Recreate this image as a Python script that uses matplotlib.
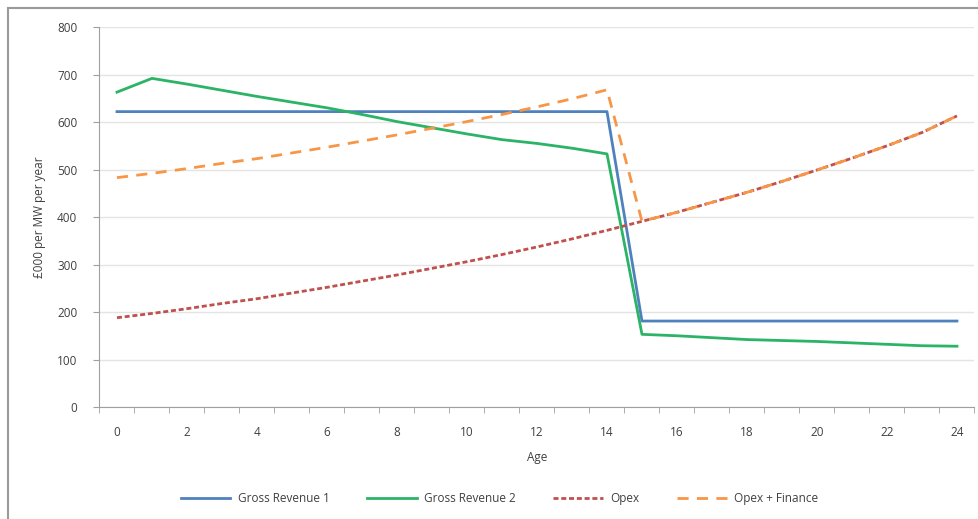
import numpy as np
import matplotlib.pyplot as plt
from matplotlib.patches import Rectangle
from matplotlib.ticker import FixedLocator, MultipleLocator

age = list(range(25))
gross_rev_1 = [622] * 15 + [181] * 10
gross_rev_2 = [663, 692, 680, 667, 654, 642, 630, 616, 601, 588, 575, 563,
               555, 545, 533, 153, 150, 146, 142, 140, 138, 135, 132, 129, 128]
opex = [188, 197, 207, 218, 228, 240, 252, 265, 278, 292, 306, 321, 337,
        354, 372, 391, 410, 431, 452, 475, 499, 524, 550, 578, 613]
opex_finance = [483, 492, 502, 513, 523, 535, 547, 560, 573, 587, 601, 616,
                632, 649, 668, 391, 410, 431, 452, 475, 499, 524, 550, 578, 613]

plt.rcParams["font.family"] = ["Open Sans", "DejaVu Sans"]
fs = 8.5
fig = plt.figure(figsize=(9.79, 5.19), dpi=100)
ax = fig.add_axes([0.1016, 0.2158, 0.8938, 0.732])

ax.plot(age, gross_rev_1, color="#4F81BD", lw=2, label="Gross Revenue 1")
ax.plot(age, gross_rev_2, color="#2BB366", lw=2, label="Gross Revenue 2")
ax.plot(age, opex, color="#C0504D", lw=2, ls=(0, (1.8, 1)), label="Opex")
ax.plot(age, opex_finance, color="#F79646", lw=2, ls=(0, (4, 3)), label="Opex + Finance")

ax.set_xlim(-0.5, 24.5)
ax.set_ylim(0, 800)
ax.set_xticks(range(0, 25, 2))
ax.xaxis.set_minor_locator(FixedLocator(np.arange(-0.5, 25, 1)))
ax.yaxis.set_major_locator(MultipleLocator(100))
ax.tick_params(axis="x", which="major", length=0, pad=14, labelsize=fs, colors="#404040")
ax.tick_params(axis="x", which="minor", length=4, color="#A0A0A0")
ax.tick_params(axis="y", length=4, color="#A0A0A0", pad=12, labelsize=fs, colors="#404040")
ax.grid(axis="y", color="#E4E4E4", lw=1)
ax.set_axisbelow(True)
for s in ["top", "right"]:
    ax.spines[s].set_visible(False)
for s in ["left", "bottom"]:
    ax.spines[s].set_color("#A0A0A0")

ax.set_xlabel("Age", fontsize=fs, color="#404040", labelpad=8)
ax.set_ylabel("£000 per MW per year", fontsize=fs, color="#404040", labelpad=8)

fig.legend(loc="center", bbox_to_anchor=(0.51, 0.04), ncol=4, frameon=False,
           fontsize=fs, handlelength=4.2, handletextpad=0.6, columnspacing=3.2,
           labelcolor="#404040")

fig.patches.append(Rectangle((0.008, -0.1), 1.2, 1.085, transform=fig.transFigure,
                             fill=False, edgecolor="#9A9A9A", lw=1.5))

fig.savefig("out.png", dpi=100)
